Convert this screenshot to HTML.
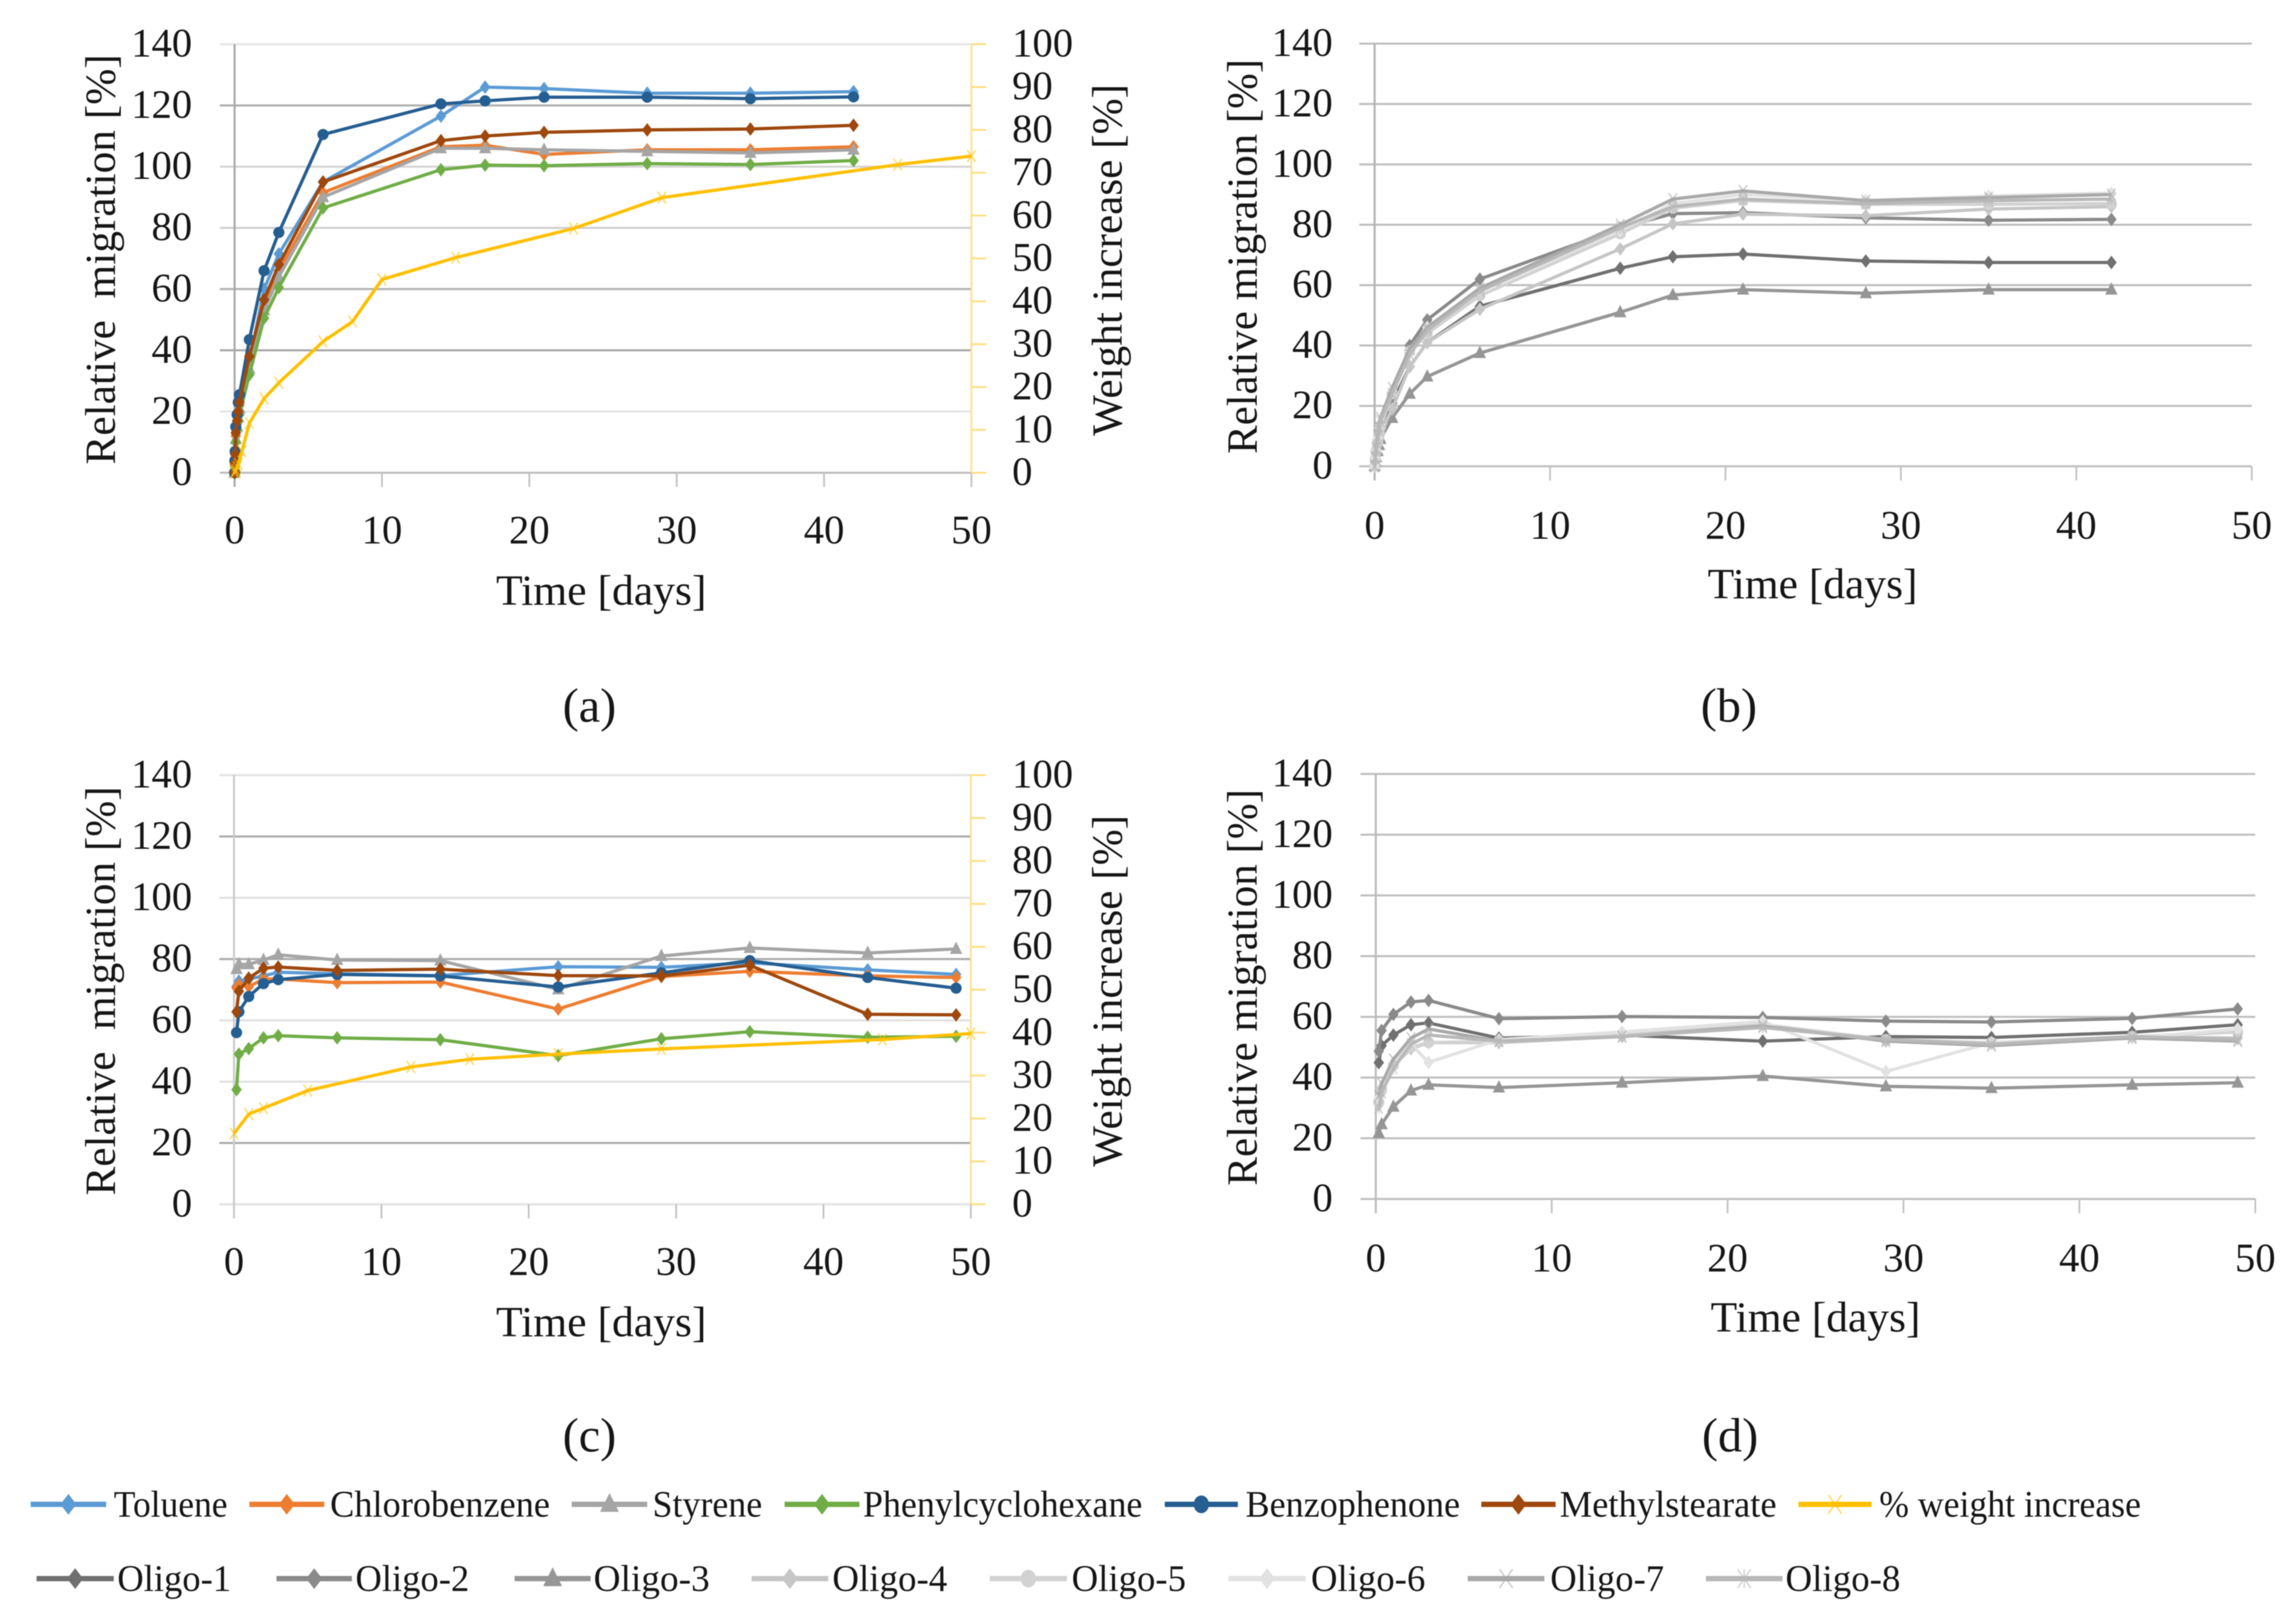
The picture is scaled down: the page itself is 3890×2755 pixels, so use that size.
<!DOCTYPE html>
<html lang="en">
<head>
<meta charset="utf-8">
<title>Relative migration and weight increase over time</title>
<style>
html,body{margin:0;padding:0;background:#fff;width:3890px;height:2755px;overflow:hidden}
#figure{display:block;filter:blur(0.8px)}
text{font-family:"Liberation Serif",serif;fill:#161616}
.tick{font-size:69px;dominant-baseline:central}
.title{font-size:73px}
.caption{font-size:82px;text-anchor:middle}
.legend{font-size:63px;dominant-baseline:central}
</style>
</head>
<body>
<svg id="figure" width="3890" height="2755" viewBox="0 0 3890 2755">
  <rect x="0" y="0" width="3890" height="2755" fill="#ffffff"/>
  <g id="plots"></g>

  <text class="title" transform="translate(195 440) rotate(-90)" text-anchor="middle" textLength="696" lengthAdjust="spacingAndGlyphs" xml:space="preserve">Relative  migration [%]</text>
  <text class="title" transform="translate(1903 441) rotate(-90)" text-anchor="middle" textLength="597" lengthAdjust="spacingAndGlyphs">Weight increase [%]</text>
  <text class="title" x="1020" y="1026" text-anchor="middle" textLength="357" lengthAdjust="spacingAndGlyphs">Time [days]</text>
  <text class="caption" x="1000" y="1224">(a)</text>

  <text class="title" transform="translate(2132 435) rotate(-90)" text-anchor="middle" textLength="670" lengthAdjust="spacingAndGlyphs">Relative migration [%]</text>
  <text class="title" x="3075" y="1015" text-anchor="middle" textLength="356" lengthAdjust="spacingAndGlyphs">Time [days]</text>
  <text class="caption" x="2933" y="1224">(b)</text>

  <text class="title" transform="translate(195 1681) rotate(-90)" text-anchor="middle" textLength="694" lengthAdjust="spacingAndGlyphs" xml:space="preserve">Relative  migration [%]</text>
  <text class="title" transform="translate(1903 1681) rotate(-90)" text-anchor="middle" textLength="597" lengthAdjust="spacingAndGlyphs">Weight increase [%]</text>
  <text class="title" x="1020" y="2267" text-anchor="middle" textLength="357" lengthAdjust="spacingAndGlyphs">Time [days]</text>
  <text class="caption" x="1000" y="2462">(c)</text>

  <text class="title" transform="translate(2132 1675) rotate(-90)" text-anchor="middle" textLength="673" lengthAdjust="spacingAndGlyphs">Relative migration [%]</text>
  <text class="title" x="3080" y="2259" text-anchor="middle" textLength="356" lengthAdjust="spacingAndGlyphs">Time [days]</text>
  <text class="caption" x="2935" y="2462">(d)</text>

  <g id="legend-keys"></g>
  <g>
    <text class="legend" x="193" y="2552" textLength="193" lengthAdjust="spacingAndGlyphs">Toluene</text>
    <text class="legend" x="560" y="2552" textLength="373" lengthAdjust="spacingAndGlyphs">Chlorobenzene</text>
    <text class="legend" x="1107" y="2552" textLength="186" lengthAdjust="spacingAndGlyphs">Styrene</text>
    <text class="legend" x="1464" y="2552" textLength="474" lengthAdjust="spacingAndGlyphs">Phenylcyclohexane</text>
    <text class="legend" x="2113" y="2552" textLength="364" lengthAdjust="spacingAndGlyphs">Benzophenone</text>
    <text class="legend" x="2646" y="2552" textLength="368" lengthAdjust="spacingAndGlyphs">Methylstearate</text>
    <text class="legend" x="3188" y="2552" textLength="444" lengthAdjust="spacingAndGlyphs">% weight increase</text>
    <text class="legend" x="199" y="2678" textLength="193" lengthAdjust="spacingAndGlyphs">Oligo-1</text>
    <text class="legend" x="603" y="2678" textLength="193" lengthAdjust="spacingAndGlyphs">Oligo-2</text>
    <text class="legend" x="1007" y="2678" textLength="197" lengthAdjust="spacingAndGlyphs">Oligo-3</text>
    <text class="legend" x="1412" y="2678" textLength="195" lengthAdjust="spacingAndGlyphs">Oligo-4</text>
    <text class="legend" x="1818" y="2678" textLength="194" lengthAdjust="spacingAndGlyphs">Oligo-5</text>
    <text class="legend" x="2224" y="2678" textLength="194" lengthAdjust="spacingAndGlyphs">Oligo-6</text>
    <text class="legend" x="2630" y="2678" textLength="193" lengthAdjust="spacingAndGlyphs">Oligo-7</text>
    <text class="legend" x="3029" y="2678" textLength="195" lengthAdjust="spacingAndGlyphs">Oligo-8</text>
  </g>
</svg>

<script>
// Axis tick labels
const yTicks = [0, 20, 40, 60, 80, 100, 120, 140];
const y2Ticks = [0, 10, 20, 30, 40, 50, 60, 70, 80, 90, 100];
const xTicks = [0, 10, 20, 30, 40, 50];

// Panel (a): migration into the polymer, time axis
const daysA = [0, 0.02, 0.04, 0.08, 0.17, 0.25, 0.33, 1, 2, 3, 6, 14, 17, 21, 28, 35, 42];
const tolueneA = [0, 3, 6, 13, 17, 20, 24, 36, 60, 71.5, 95, 116.5, 126, 125.5, 124, 124, 124.5];
const chlorobenzeneA = [0, 2.5, 6, 12, 16, 19, 22, 36, 54, 66, 91.5, 106.5, 107, 104, 105.5, 105.5, 106.5];
const styreneA = [0, 2, 5, 11, 15, 18, 21, 34, 53, 64, 90, 106, 106, 105.5, 105, 104.5, 105.5];
const phenylcyclohexaneA = [0, 2, 4, 10, 14, 17, 19, 32, 50.5, 60.5, 86.5, 99, 100.5, 100.3, 101, 100.7, 102];
const benzophenoneA = [0, 4, 7, 15, 19, 23, 25.5, 43.5, 66, 78.5, 110.5, 120.5, 121.5, 122.7, 122.7, 122.2, 122.8];
const methylstearateA = [0, 3, 6, 13, 17, 20, 23, 38, 56.5, 68, 95, 108.5, 110, 111.2, 112, 112.3, 113.5];
const weightDaysA = [0, 0.04, 0.08, 0.17, 0.25, 0.5, 1, 2, 3, 6, 8, 10, 15, 23, 29, 45, 50];
const weightA = [0, 0.3, 0.7, 1.3, 2, 5, 11.6, 17.3, 21, 30.6, 35.3, 45.1, 50.2, 57, 64.2, 71.9, 73.9];

// Panel (b): oligomers
const daysB = [0, 0.04, 0.08, 0.17, 0.25, 0.33, 1, 2, 3, 6, 14, 17, 21, 28, 35, 42];
const oligo1B = [0, 2, 4, 7, 9, 11, 21, 33, 41, 53, 65.6, 69.4, 70.3, 68, 67.5, 67.5];
const oligo2B = [0, 2, 4, 7, 9, 12, 23, 40, 48.5, 62, 78.9, 83.7, 84, 82.3, 81.5, 81.8];
const oligo3B = [0, 1.5, 3, 5, 7, 9, 16, 24, 29.7, 37.5, 51, 56.7, 58.5, 57.3, 58.5, 58.5];
const oligo4B = [0, 2, 4, 7, 9, 11, 19, 33, 41, 52, 72, 80.3, 83.5, 83, 85.2, 86];
const oligo5B = [0, 2.5, 5, 8, 10, 13, 24, 38, 44, 56.5, 77, 85.5, 88, 86.8, 86.8, 87];
const oligo6B = [0, 3, 5, 9, 11, 14, 25, 38, 46, 58, 78, 87, 90, 88, 89.5, 90.5];
const oligo7B = [0, 3, 6, 10, 13, 16, 26, 39, 46, 59, 80, 88.5, 91.2, 88, 89, 90];
const oligo8B = [0, 3, 5, 9, 12, 15, 24, 37, 45, 58, 79, 86, 88.5, 87, 88, 88.5];

// Panel (c)
const daysC = [0.17, 0.33, 1, 2, 3, 7, 14, 22, 29, 35, 43, 49];
const tolueneC = [71, 72.8, 73.5, 74.5, 75.7, 75.2, 74.6, 77.5, 77.3, 78.8, 76.5, 75];
const chlorobenzeneC = [70.6, 71.6, 71, 73.5, 73.5, 72.3, 72.5, 63.7, 74.3, 76, 74.5, 74];
const styreneC = [76.7, 78.3, 78.3, 79.7, 81.4, 79.7, 79.5, 70.1, 81, 83.6, 82, 83.3];
const phenylcyclohexaneC = [37.4, 49, 50.8, 54.3, 55, 54.3, 53.7, 48.5, 54, 56.3, 54.5, 54.8];
const benzophenoneC = [56, 62.8, 67.8, 72, 73.3, 75, 74.5, 70.9, 75.5, 79.5, 74, 70.5];
const methylstearateC = [62.8, 69.5, 73.8, 77, 77.4, 76.3, 76.7, 74.6, 74.5, 78, 62, 61.8];
const weightDaysC = [0, 1, 2, 5, 12, 16, 22, 29, 44, 50];
const weightC = [16.5, 21, 22.4, 26.5, 32, 33.8, 35, 36.2, 38.4, 39.8];

// Panel (d)
const daysD = [0.17, 0.33, 1, 2, 3, 7, 14, 22, 29, 35, 43, 49];
const oligo1D = [44.9, 50.5, 54, 57.4, 58, 53, 54, 52, 53.5, 53.2, 54.9, 57.4];
const oligo2D = [48.7, 55.5, 60.8, 64.9, 65.4, 59.4, 60.1, 59.8, 58.6, 58.3, 59.5, 62.6];
const oligo3D = [21.7, 24.6, 30.4, 35.7, 37.6, 36.7, 38.3, 40.5, 37.1, 36.5, 37.6, 38.3];
const oligo4D = [31, 35, 44, 49.5, 51.5, 51.5, 53.5, 57.5, 52, 51.5, 53.5, 53];
const oligo5D = [32, 36, 44, 50, 51.5, 52, 54, 57.5, 52.5, 51.5, 53.5, 55];
const oligo6D = [33, 37, 45, 51, 45, 52.5, 55, 58.5, 42, 51.5, 53, 56];
const oligo7D = [34, 38, 46, 53, 56, 52, 53.5, 57, 52, 50.5, 53, 52];
const oligo8D = [30, 35, 43, 51, 54, 52, 53.5, 56.5, 52.5, 51, 53.5, 52.5];

const SVG_NS = document.getElementById('figure').namespaceURI;
const plots = document.getElementById('plots');
const legendKeys = document.getElementById('legend-keys');

const STYLE = {
  toluene: {label: 'toluene', color: '#5B9BD5', marker: 'diamond'},
  chlorobenzene: {label: 'chlorobenzene', color: '#ED7D31', marker: 'diamond'},
  styrene: {label: 'styrene', color: '#A5A5A5', marker: 'triangle'},
  phenylcyclohexane: {label: 'phenylcyclohexane', color: '#70AD47', marker: 'diamond'},
  benzophenone: {label: 'benzophenone', color: '#255E91', marker: 'circle'},
  methylstearate: {label: 'methylstearate', color: '#9E480E', marker: 'diamond'},
  weight: {label: 'weight-increase', color: '#FFC000', marker: 'cross'},
  oligo1: {label: 'oligo-1', color: '#707070', marker: 'diamond'},
  oligo2: {label: 'oligo-2', color: '#8A8A8A', marker: 'diamond'},
  oligo3: {label: 'oligo-3', color: '#969696', marker: 'triangle'},
  oligo4: {label: 'oligo-4', color: '#C6C6C6', marker: 'diamond'},
  oligo5: {label: 'oligo-5', color: '#D2D2D2', marker: 'circle'},
  oligo6: {label: 'oligo-6', color: '#E2E2E2', marker: 'diamond'},
  oligo7: {label: 'oligo-7', color: '#A9A9A9', marker: 'cross'},
  oligo8: {label: 'oligo-8', color: '#B8B8B8', marker: 'star'}
};

const PANELS = [
  {id: 'a', left: 398, right: 1648, top: 75, bottom: 802, stub: 373, xLabelY: 899, yLabelRight: 326, y2LabelLeft: 1717,
   axisColor: '#a9a9a9', grid: {0: '#bdbdbd', 20: '#e4e4e4', 40: '#a8a8a8', 60: '#b0b0b0', 80: '#d0d0d0', 100: '#d4d4d4', 120: '#aeaeae', 140: '#e6e6e6'},
   series: [
     {key: 'toluene', days: daysA, values: tolueneA},
     {key: 'chlorobenzene', days: daysA, values: chlorobenzeneA},
     {key: 'styrene', days: daysA, values: styreneA},
     {key: 'phenylcyclohexane', days: daysA, values: phenylcyclohexaneA},
     {key: 'benzophenone', days: daysA, values: benzophenoneA},
     {key: 'methylstearate', days: daysA, values: methylstearateA},
     {key: 'weight', days: weightDaysA, values: weightA, secondary: true}
   ]},
  {id: 'b', left: 2332, right: 3820, top: 74, bottom: 791, stub: 2306, xLabelY: 891, yLabelRight: 2261,
   axisColor: '#b4b4b4', grid: {},
   series: [
     {key: 'oligo1', days: daysB, values: oligo1B},
     {key: 'oligo2', days: daysB, values: oligo2B},
     {key: 'oligo3', days: daysB, values: oligo3B},
     {key: 'oligo4', days: daysB, values: oligo4B},
     {key: 'oligo5', days: daysB, values: oligo5B},
     {key: 'oligo6', days: daysB, values: oligo6B},
     {key: 'oligo7', days: daysB, values: oligo7B},
     {key: 'oligo8', days: daysB, values: oligo8B}
   ]},
  {id: 'c', left: 397, right: 1647, top: 1315, bottom: 2043, stub: 372, xLabelY: 2140, yLabelRight: 326, y2LabelLeft: 1717,
   axisColor: '#cccccc', grid: {0: '#e2e2e2', 20: '#aaaaaa', 40: '#e0e0e0', 60: '#e0e0e0', 80: '#aaaaaa', 100: '#e2e2e2', 120: '#aaaaaa', 140: '#e2e2e2'},
   series: [
     {key: 'toluene', days: daysC, values: tolueneC},
     {key: 'chlorobenzene', days: daysC, values: chlorobenzeneC},
     {key: 'styrene', days: daysC, values: styreneC},
     {key: 'phenylcyclohexane', days: daysC, values: phenylcyclohexaneC},
     {key: 'benzophenone', days: daysC, values: benzophenoneC},
     {key: 'methylstearate', days: daysC, values: methylstearateC},
     {key: 'weight', days: weightDaysC, values: weightC, secondary: true}
   ]},
  {id: 'd', left: 2334, right: 3826, top: 1313, bottom: 2034, stub: 2308, xLabelY: 2134, yLabelRight: 2261,
   axisColor: '#bcbcbc', grid: {},
   series: [
     {key: 'oligo1', days: daysD, values: oligo1D},
     {key: 'oligo2', days: daysD, values: oligo2D},
     {key: 'oligo3', days: daysD, values: oligo3D},
     {key: 'oligo4', days: daysD, values: oligo4D},
     {key: 'oligo5', days: daysD, values: oligo5D},
     {key: 'oligo6', days: daysD, values: oligo6D},
     {key: 'oligo7', days: daysD, values: oligo7D},
     {key: 'oligo8', days: daysD, values: oligo8D}
   ]}
];

const LEGEND_ROWS = [
  {y: 2552, entries: [['toluene', 52, 180], ['chlorobenzene', 423, 550], ['styrene', 970, 1098], ['phenylcyclohexane', 1331, 1458], ['benzophenone', 1976, 2100], ['methylstearate', 2513, 2639], ['weight', 3051, 3175]]},
  {y: 2678, entries: [['oligo1', 62, 193], ['oligo2', 469, 597], ['oligo3', 873, 1002], ['oligo4', 1275, 1405], ['oligo5', 1679, 1810], ['oligo6', 2084, 2215], ['oligo7', 2490, 2620], ['oligo8', 2894, 3024]]}
];

function make(tag, attrs, parent) {
  const el = document.createElementNS(SVG_NS, tag);
  for (const k in attrs) el.setAttribute(k, attrs[k]);
  parent.appendChild(el);
  return el;
}
function xScale(panel, day) { return panel.left + (panel.right - panel.left) * day / 50; }
function yScale(panel, value) { return panel.bottom - (panel.bottom - panel.top) * value / 140; }
function y2Scale(panel, value) { return panel.bottom - (panel.bottom - panel.top) * value / 100; }

function drawMarker(parent, shape, cx, cy, color, big, name) {
  const r = big ? 16 : 10.5;
  let el;
  if (shape === 'circle') {
    el = make('ellipse', {cx: cx, cy: cy, rx: big ? 13 : 9.5, ry: big ? 15 : 9.5, fill: color}, parent);
  } else if (shape === 'diamond') {
    el = make('polygon', {points: [cx, cy - r * 1.1, cx + r * 0.85, cy, cx, cy + r * 1.1, cx - r * 0.85, cy].join(' '), fill: color}, parent);
  } else if (shape === 'triangle') {
    el = make('polygon', {points: [cx, cy - r * 1.2, cx + r, cy + r * 0.8, cx - r, cy + r * 0.8].join(' '), fill: color}, parent);
  } else {
    const s = big ? 16 : 10;
    let d = 'M' + (cx - s * 0.7) + ' ' + (cy - s) + 'L' + (cx + s * 0.7) + ' ' + (cy + s) +
            'M' + (cx + s * 0.7) + ' ' + (cy - s) + 'L' + (cx - s * 0.7) + ' ' + (cy + s);
    if (shape === 'star') d += 'M' + cx + ' ' + (cy - s) + 'L' + cx + ' ' + (cy + s);
    el = make('path', {d: d, fill: 'none', stroke: color, 'stroke-width': 2.5, 'stroke-opacity': 0.6}, parent);
  }
  
  
}

function drawPanel(panel) {
  const g = make('g', {}, plots);
  
  

  yTicks.forEach(function (tick) {
    const y = yScale(panel, tick);
    const line = make('line', {x1: panel.stub, x2: panel.right, y1: y, y2: y, stroke: panel.grid[tick] || '#bfbfbf', 'stroke-width': 3.5}, g);
    
    
    const label = make('text', {class: 'tick', x: panel.yLabelRight, y: y - 2, 'text-anchor': 'end'}, g);
    label.textContent = String(tick);
    
    
  });

  const yAxis = make('line', {x1: panel.left, x2: panel.left, y1: panel.top, y2: panel.bottom + 24, stroke: panel.axisColor, 'stroke-width': 3.5}, g);
  
  

  xTicks.forEach(function (tick) {
    const x = xScale(panel, tick);
    if (tick > 0) {
      const mark = make('line', {x1: x, x2: x, y1: panel.bottom, y2: panel.bottom + 24, stroke: '#c2c2c2', 'stroke-width': 3}, g);
      
      
    }
    const label = make('text', {class: 'tick', x: x, y: panel.xLabelY, 'text-anchor': 'middle'}, g);
    label.textContent = String(tick);
    
    
  });

  if (panel.y2LabelLeft) {
    const axis2 = make('line', {x1: panel.right, x2: panel.right, y1: panel.top, y2: panel.bottom, stroke: '#FFE08A', 'stroke-width': 3}, g);
    
    
    y2Ticks.forEach(function (tick) {
      const y = y2Scale(panel, tick);
      const mark = make('line', {x1: panel.right, x2: panel.right + 25, y1: y, y2: y, stroke: '#FFDC7A', 'stroke-width': 3}, g);
      
      
      const label = make('text', {class: 'tick', x: panel.y2LabelLeft, y: y - 2, 'text-anchor': 'start'}, g);
      label.textContent = String(tick);
      
      
    });
  }

  panel.series.forEach(function (s) {
    const style = STYLE[s.key];
    const sy = s.secondary ? y2Scale : yScale;
    const sg = make('g', {}, g);
    
    
    const pts = s.days.map(function (d, i) { return xScale(panel, d) + ',' + sy(panel, s.values[i]); }).join(' ');
    const line = make('polyline', {points: pts, fill: 'none', stroke: style.color, 'stroke-width': 5.5, 'stroke-linejoin': 'round'}, sg);
    
    
    s.days.forEach(function (d, i) {
      drawMarker(sg, style.marker, xScale(panel, d), sy(panel, s.values[i]), style.color, false, 'point-' + style.label);
    });
  });
}

function drawLegend() {
  LEGEND_ROWS.forEach(function (row) {
    row.entries.forEach(function (entry) {
      const style = STYLE[entry[0]];
      const g = make('g', {}, legendKeys);
      
      
      const line = make('line', {x1: entry[1], x2: entry[2], y1: row.y, y2: row.y, stroke: style.color, 'stroke-width': 9}, g);
      
      
      drawMarker(g, style.marker, (entry[1] + entry[2]) / 2, row.y, style.color, true, 'legend-marker-' + style.label);
    });
  });
}

PANELS.forEach(drawPanel);
drawLegend();
</script>
</body>
</html>
